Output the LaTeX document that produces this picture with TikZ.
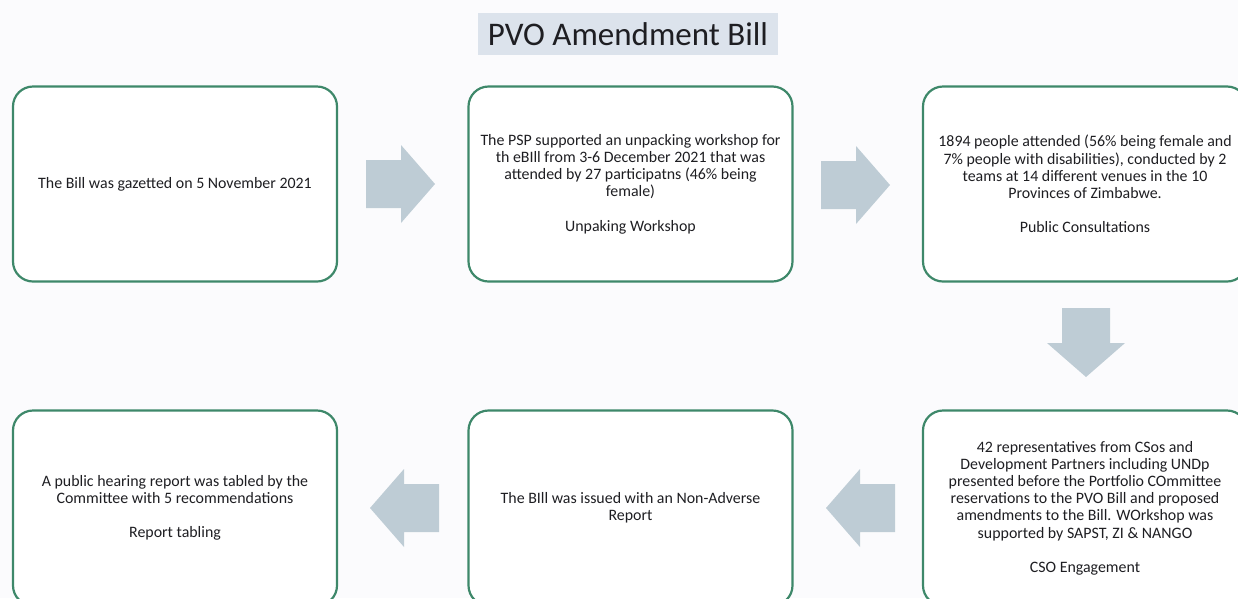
\documentclass[tikz,border=0pt]{standalone}
\usepackage{fontspec}
\setmainfont{Carlito}
\definecolor{boxline}{RGB}{62,136,106}
\definecolor{arrowfill}{RGB}{190,204,213}
\definecolor{titlefill}{RGB}{220,227,236}
\definecolor{inktext}{RGB}{30,30,34}
\definecolor{paper}{RGB}{251,251,253}
\begin{document}
\begin{tikzpicture}[x=1pt,y=-1pt,
  stage/.style={draw=boxline, line width=2.2pt, rounded corners=20pt, fill=white,
    minimum width=324pt, minimum height=195pt, inner sep=0pt,
    text=inktext, align=center, font=\fontsize{15.9}{17.2}\selectfont},
  banner/.style={fill=titlefill, minimum width=300pt, minimum height=42pt, inner sep=0pt,
    text=inktext, font=\fontsize{33}{36}\selectfont},
  blockarrow/.pic={\fill[arrowfill] (-35,-24) -- (0,-24) -- (0,-39) -- (34,0) -- (0,39) -- (0,24) -- (-35,24) -- cycle;}]
\useasboundingbox (0,0) rectangle (1238,598);
\clip (0,0) rectangle (1238,598);
\fill[paper] (0,0) rectangle (1238,598);

% heading
\node[banner] (title) at (628,34) {PVO Amendment Bill};

% upper row
\node[stage] (gazette) at (175,184) {The Bill was gazetted on 5 November 2021};
\node[stage] (workshop) at (630.5,184) {The PSP supported an unpacking workshop for\\
  th eBIll from 3-6 December 2021 that was\\
  attended by 27 participatns (46\% being\\
  female)\\[17pt]
  Unpaking Workshop};
\node[stage] (consult) at (1085,184) {1894 people attended (56\% being female and\\
  7\% people with disabilities), conducted by 2\\
  teams at 14 different venues in the 10\\
  Provinces of Zimbabwe.\\[17pt]
  Public Consultations};

% lower row
\node[stage] (cso) at (1085,508) {42 representatives from CSos and\\
  Development Partners including UNDp\\
  presented before the Portfolio COmmittee\\
  reservations to the PVO Bill and proposed\\
  amendments to the Bill. WOrkshop was\\
  supported by SAPST, ZI \& NANGO\\[17pt]
  CSO Engagement};
\node[stage] (issued) at (630.5,508) {The BIll was issued with an Non-Adverse\\
  Report};
\node[stage] (report) at (175,508) {A public hearing report was tabled by the\\
  Committee with 5 recommendations\\[17pt]
  Report tabling};

% block arrows between the stages
\pic at (401,184) {blockarrow};
\pic at (856,185) {blockarrow};
\pic[rotate=-90] at (1086,343) {blockarrow};
\pic[rotate=180] at (860,508) {blockarrow};
\pic[rotate=180] at (404,508) {blockarrow};
\end{tikzpicture}
\end{document}
